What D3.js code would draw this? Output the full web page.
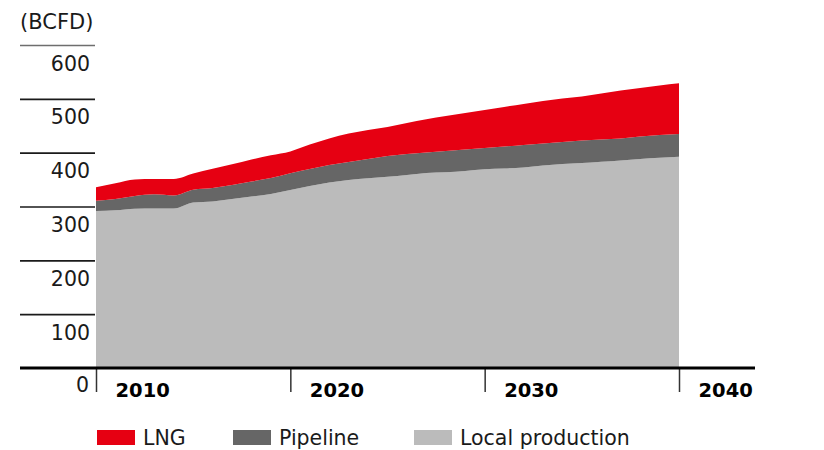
<!DOCTYPE html>
<html>
<head>
<meta charset="utf-8">
<script src="https://cdn.jsdelivr.net/npm/d3@7"></script>
<style>
  html, body { margin: 0; padding: 0; background: #fff; }
  svg { display: block; font-family: "DejaVu Sans", Verdana, sans-serif; }
</style>
</head>
<body>
<svg id="chart" width="824" height="450"></svg>
<script>
// Natural gas supply outlook, billion cubic feet per day
const years = d3.range(2010, 2041);
const localProduction = [291.6, 292.9, 295.9, 296.3, 296.3, 307.4, 309.3, 313.9, 318.6, 323.2,
  330.7, 338.1, 344.6, 349.2, 352.4, 355.2, 358.5, 362.2, 363.7, 366.0,
  369.1, 370.6, 372.5, 376.2, 379.0, 380.8, 383.1, 385.5, 388.2, 390.5, 392.5];
const pipeline = [19.1, 21.0, 23.6, 26.4, 24.1, 23.8, 25.1, 26.0, 27.9, 29.7,
  31.0, 31.6, 32.5, 33.4, 36.0, 38.6, 39.0, 38.1, 39.4, 39.9,
  39.6, 40.7, 41.8, 40.7, 40.9, 41.6, 41.2, 40.9, 41.6, 42.4, 42.2];
const lng = [24.9, 29.3, 30.7, 28.4, 30.7, 30.1, 35.9, 38.6, 40.9, 42.2,
  40.5, 45.3, 49.2, 52.9, 53.7, 53.9, 57.6, 61.7, 65.0, 67.8,
  70.6, 73.6, 76.2, 79.1, 80.6, 81.9, 85.6, 89.2, 90.3, 92.0, 94.2];
const seriesKeys = ["local", "pipeline", "lng"];
const seriesLabels = { lng: "LNG", pipeline: "Pipeline", local: "Local production" };
const seriesColors = { lng: "#e60012", pipeline: "#666666", local: "#bbbbbb" };
const legendOrder = ["lng", "pipeline", "local"];
const xTicks = [2010, 2020, 2030, 2040];
const yTicks = [100, 200, 300, 400, 500, 600];
const unitLabel = "(BCFD)";

const rows = years.map((yr, i) => ({
  year: yr, local: localProduction[i], pipeline: pipeline[i], lng: lng[i]
}));

const svg = d3.select("#chart");
const x = d3.scaleLinear().domain([2010, 2040]).range([96, 679]);
const y = d3.scaleLinear().domain([0, 600]).range([368, 45]);

// stacked areas
const stacked = d3.stack().keys(seriesKeys)(rows);
const area = d3.area()
  .x(d => x(d.data.year))
  .y0(d => y(d[0]))
  .y1(d => y(d[1]))
  .curve(d3.curveMonotoneX);

svg.append("g").selectAll("path")
  .data(stacked)
  .join("path")
  .attr("d", area)
  .attr("fill", d => seriesColors[d.key]);

// value axis: short rules on the left with labels under each rule
const yAxis = d3.axisLeft(y).tickValues(yTicks).tickSize(75).tickPadding(0);
const yg = svg.append("g").attr("transform", "translate(95,0)").call(yAxis);
yg.select(".domain").remove();
yg.selectAll(".tick line")
  .attr("stroke", d => d === 600 ? "#6e6e6e" : "#1a1a1a")
  .attr("stroke-width", 1.6);
yg.selectAll(".tick text")
  .attr("x", -5).attr("dy", 25)
  .attr("text-anchor", "end")
  .attr("fill", "#1a1a1a")
  .style("font-size", "20.5px")
  .style("font-family", "'DejaVu Sans', Verdana, sans-serif");

// zero label
svg.append("text")
  .attr("x", 89).attr("y", y(0) + 24)
  .attr("text-anchor", "end")
  .attr("fill", "#1a1a1a")
  .style("font-size", "20.5px")
  .text("0");

// unit
svg.append("text")
  .attr("x", 20).attr("y", 29)
  .attr("fill", "#1a1a1a")
  .style("font-size", "21px")
  .text(unitLabel);

// year axis
const xAxis = d3.axisBottom(x).tickValues(xTicks).tickSize(24).tickFormat(d3.format("d"));
const xg = svg.append("g").attr("transform", `translate(0,${y(0)})`).call(xAxis);
xg.select(".domain").remove();
xg.selectAll(".tick line").attr("stroke", "#333").attr("stroke-width", 1.5);
xg.selectAll(".tick text")
  .attr("x", 19).attr("y", 29).attr("dy", 0)
  .attr("text-anchor", "start")
  .attr("fill", "#000")
  .style("font-size", "19.5px")
  .style("font-weight", "bold")
  .style("font-family", "'DejaVu Sans', Verdana, sans-serif");

// baseline
svg.append("line")
  .attr("x1", 20).attr("x2", 755)
  .attr("y1", y(0)).attr("y2", y(0))
  .attr("stroke", "#000").attr("stroke-width", 3);

// legend
const legendX = { lng: 97, pipeline: 233, local: 414 };
const lg = svg.append("g").selectAll("g")
  .data(legendOrder)
  .join("g")
  .attr("transform", k => `translate(${legendX[k]},430)`);
lg.append("rect")
  .attr("width", 38).attr("height", 15)
  .attr("fill", k => seriesColors[k]);
lg.append("text")
  .attr("x", 46).attr("y", 15)
  .attr("fill", "#1a1a1a")
  .style("font-size", "20.5px")
  .text(k => seriesLabels[k]);
</script>
</body>
</html>
